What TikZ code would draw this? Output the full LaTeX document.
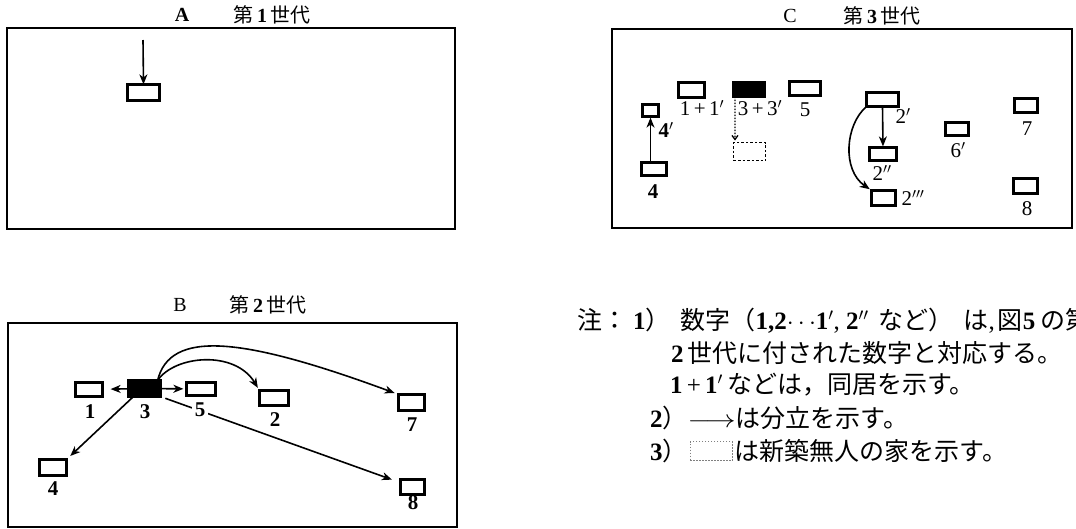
\documentclass[tikz,border=0pt]{standalone}
\usepackage{fontspec}
\setmainfont{Liberation Serif}
\newfontfamily\jp{Noto Sans CJK JP}
\usetikzlibrary{arrows.meta}
\begin{document}
\begin{tikzpicture}[x=1pt,y=-1pt,
  frame/.style={draw,line width=2pt},
  house/.style={draw,line width=2.8pt,inner sep=0pt,outer sep=0pt},
  blackhouse/.style={house,fill=black},
  newhouse/.style={draw,line width=1.4pt,dash pattern=on 2.5pt off 2pt,inner sep=0pt,outer sep=0pt},
  arr/.style={-{Stealth[length=10pt,width=8pt,inset=3pt]},line width=1.6pt},
  dotarr/.style={-{Straight Barb[length=4pt,width=6pt]},line width=1.3pt,dash pattern=on 1.5pt off 1.5pt},
  lbl/.style={font=\fontsize{21}{21}\selectfont\bfseries,inner sep=1pt},
  clbl/.style={font=\fontsize{21}{21}\selectfont,inner sep=1pt},
  ttl/.style={font=\fontsize{20}{20}\selectfont,inner sep=0pt},
  note/.style={anchor=west,font=\fontsize{25}{25}\selectfont,inner sep=0pt},
  legbox/.style={draw=gray,line width=0.8pt,dash pattern=on 1.5pt off 1.5pt,inner sep=0pt,minimum width=42pt,minimum height=19pt}
]
\useasboundingbox (0,0) rectangle (1076,528);

% ---------- Panel A ----------
\node[ttl] (tA) at (182,15) {\bfseries A};
\node[ttl] (tA2) at (272,15) {{\jp 第}\,\textbf{1}\,{\jp 世代}};
\draw[frame] (7,28) rectangle (455,229);
\node[house,minimum width=32.2pt,minimum height=16.2pt] (a1) at (143.5,92.5) {};
\coordinate (atop) at (143,40);
\draw[arr] (atop) -- (a1.north);

% ---------- Panel B ----------
\node[ttl] (tB) at (180,305) {B};
\node[ttl] (tB2) at (268,305) {{\jp 第}\,\textbf{2}\,{\jp 世代}};
\draw[frame] (8,323) rectangle (457,527);
\node[house,minimum width=27.2pt,minimum height=14.2pt] (b1) at (89,389.5) {};
\node[blackhouse,minimum width=32.2pt,minimum height=16.2pt] (b3) at (144.5,388.5) {};
\node[house,minimum width=29.2pt,minimum height=13.2pt] (b5) at (201,389) {};
\node[house,minimum width=29.2pt,minimum height=15.2pt] (b2) at (274,398) {};
\node[house,minimum width=26.2pt,minimum height=16.2pt] (b7) at (411.5,402.5) {};
\node[house,minimum width=27.2pt,minimum height=16.2pt] (b4) at (53,467.5) {};
\node[house,minimum width=24.2pt,minimum height=15.2pt] (b8) at (412.5,487) {};

\draw[arr,shorten >=8pt] (b3) -- (b1);
\draw[arr,shorten >=3pt] (b3) -- (b5);
\draw[arr,shorten >=5pt] ([xshift=5pt]b3.south west) -- (b4.north east);
\draw[arr,shorten >=3pt] ([xshift=-3pt]b3.north east) .. controls (175,355) and (235,350) .. (b2.north west);
\draw[arr,shorten >=4pt] ([xshift=-3pt]b3.north east) .. controls (170,330) and (240,336) .. (b7.north west);
\draw[arr,shorten <=5pt,shorten >=9pt] (b3.south east) -- (b8);

\node[lbl] (lb1) at (90,412) {1};
\node[lbl] (lb3) at (145,412) {3};
\node[lbl,fill=white,inner sep=3pt] (lb5) at (200,410) {5};
\node[lbl] (lb2) at (275,420) {2};
\node[lbl] (lb7) at (412,425) {7};
\node[lbl] (lb4) at (53,489) {4};
\node[lbl] (lb8) at (413,503) {8};

% ---------- Panel C ----------
\node[ttl] (tC) at (790,16) {C};
\node[ttl] (tC2) at (882,16) {{\jp 第}\,\textbf{3}\,{\jp 世代}};
\draw[frame] (612,29) rectangle (1072,228);
\node[house,minimum width=16.2pt,minimum height=12.2pt] (c4p) at (650.5,110.5) {};
\node[house,minimum width=26.2pt,minimum height=15.2pt] (c11) at (691.5,90) {};
\node[blackhouse,minimum width=31.2pt,minimum height=14.2pt] (c33) at (749,89.5) {};
\node[house,minimum width=31.2pt,minimum height=14.2pt] (c5) at (805,88.5) {};
\node[house,minimum width=32.2pt,minimum height=14.2pt] (c2p) at (882.5,99.5) {};
\node[house,minimum width=27.2pt,minimum height=13.2pt] (c2pp) at (883,154) {};
\node[house,minimum width=24.2pt,minimum height=15.2pt] (c2ppp) at (883.5,198) {};
\node[house,minimum width=23.2pt,minimum height=13.2pt] (c6p) at (957,129) {};
\node[house,minimum width=23.2pt,minimum height=14.2pt] (c7) at (1026,105.5) {};
\node[house,minimum width=24.2pt,minimum height=15.2pt] (c8) at (1025.5,186) {};
\node[house,minimum width=25.2pt,minimum height=13.2pt] (c4) at (654,169) {};
\node[newhouse,minimum width=32pt,minimum height=18pt] (cnew) at (749.5,151.5) {};

\draw[arr,shorten >=1pt] (c4.north -| c4p) -- (c4p.south);
\draw[dotarr,shorten >=2pt] ([xshift=1.5pt]c33.south west) -- ([xshift=1.5pt]cnew.north west);
\draw[arr,shorten >=1pt] (c2p.south) -- (c2pp.north);
\draw[arr,shorten >=2pt] (c2p.south west) .. controls (845,125) and (842,170) .. (c2ppp.north west);

\node[lbl] (lc4) at (653,192) {4};
\node[lbl] (lc4p) at (666,130) {4$'$};
\node[clbl] (lc11) at (702,108) {1\,+\,1$'$};
\node[clbl] (lc33) at (760,108) {3\,+\,3$'$};
\node[clbl] (lc5) at (805,110) {5};
\node[clbl] (lc2p) at (903,116) {2$'$};
\node[clbl] (lc2pp) at (882,173) {2$''$};
\node[clbl] (lc2ppp) at (913,198) {2$'''$};
\node[clbl] (lc6p) at (958,150) {6$'$};
\node[clbl] (lc7) at (1027,129) {7};
\node[clbl] (lc8) at (1027,209) {8};

% ---------- Notes ----------
\node[note] (n1) at (577,321) {{\jp 注：}\hspace{6pt}\textbf{1}{\jp ）}\hspace{10pt}{\jp 数字（}\textbf{1,2}$\cdots$\textbf{1}$'$, \textbf{2}$''$\hspace{10pt}{\jp など）}\hspace{10pt}{\jp は},\hspace{3pt}{\jp 図}\textbf{5}\hspace{5pt}{\jp の第}};
\node[note] (n2) at (671,353) {\textbf{2}\,{\jp 世代に付された数字と対応する。}};
\node[note] (n3) at (670,385) {\textbf{1}\,+\,\textbf{1}$'$\,{\jp などは，同居を示す。}};
\node[note] (n4) at (650,418) {\textbf{2}{\jp ）}\scalebox{1.2}[1]{$\longrightarrow$}{\jp は分立を示す。}};
\node[note] (n5a) at (650,451) {\textbf{3}{\jp ）}};
\node[legbox] (leg) at (711,451) {};
\node[note] (n5b) at ([xshift=2pt]leg.east) {{\jp は新築無人の家を示す。}};
\end{tikzpicture}
\end{document}
